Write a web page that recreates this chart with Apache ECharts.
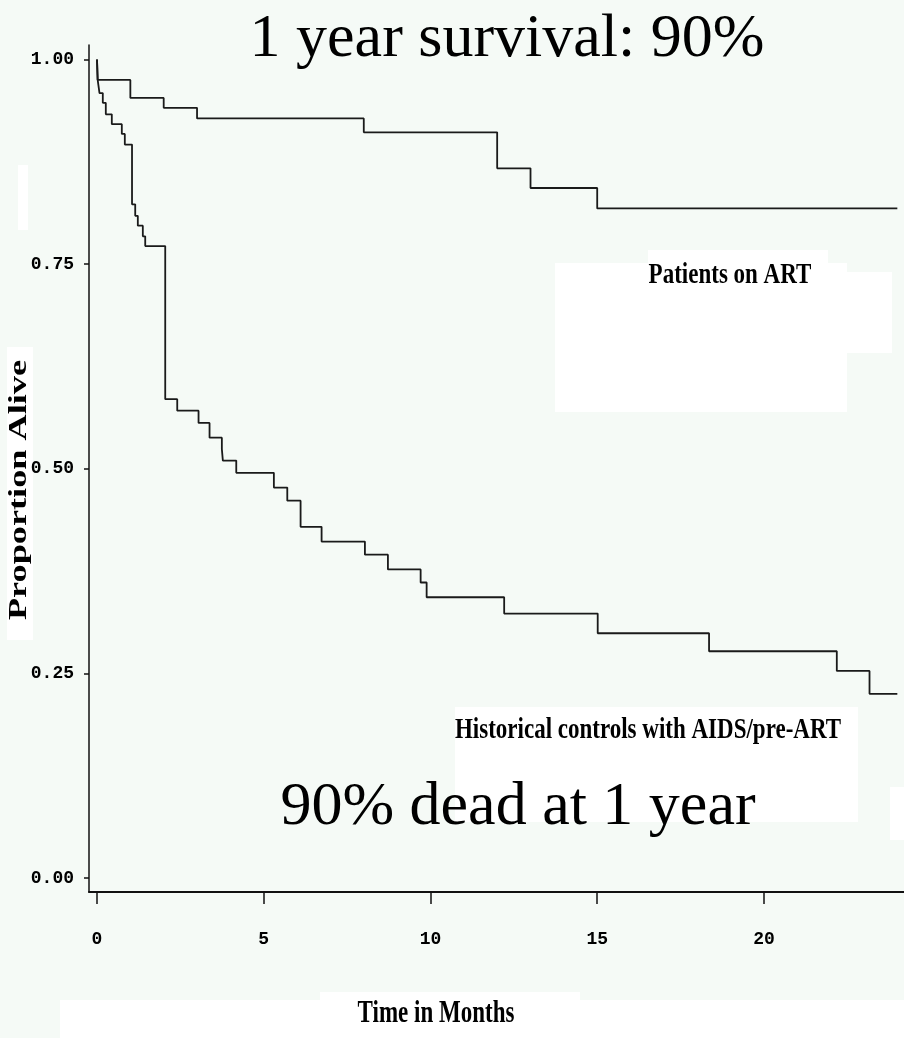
<!DOCTYPE html>
<html>
<head>
<meta charset="utf-8">
<script src="https://cdn.jsdelivr.net/npm/echarts@6/dist/echarts.min.js"></script>
<style>
  html, body { margin: 0; padding: 0; background: #f5faf6; }
  #chart { width: 904px; height: 1038px; }
</style>
</head>
<body>
<div id="chart"></div>
<script>
// Kaplan-Meier survival estimates (months, proportion alive)
const artMonths = [0, 0.02, 1.0, 2.0, 3.0, 8.0, 12.0, 13.0, 15.0, 24.0];
const artSurvival = [1, 0.975, 0.953, 0.941, 0.928, 0.911, 0.867, 0.843, 0.818, 0.818];

const ctrlMonths = [0, 0.02, 0.075, 0.174, 0.264, 0.444, 0.744, 0.834, 1.05, 1.146,
  1.224, 1.374, 1.446, 2.046, 2.406, 3.045, 3.375, 3.744, 3.774, 4.176,
  5.304, 5.706, 6.105, 6.735, 8.034, 8.724, 9.705, 9.885, 12.21, 15.015,
  18.354, 22.185, 23.166, 24.0];
const ctrlSurvival = [1, 0.975, 0.959, 0.947, 0.933, 0.921, 0.909, 0.896, 0.823, 0.809,
  0.797, 0.784, 0.772, 0.585, 0.571, 0.556, 0.538, 0.524, 0.510, 0.495,
  0.477, 0.461, 0.429, 0.411, 0.395, 0.377, 0.361, 0.343, 0.323, 0.299,
  0.277, 0.253, 0.225, 0.225];

const xTicks = [0, 5, 10, 15, 20];
const yTicks = [0, 0.25, 0.5, 0.75, 1];
const yTickLabels = ['0.00', '0.25', '0.50', '0.75', '1.00'];

const artLabel = 'Patients on ART';
const ctrlLabel = 'Historical controls with AIDS/pre-ART';
const headline = '1 year survival: 90%';
const footline = '90% dead at 1 year';
const xTitle = 'Time in Months';
const yTitle = 'Proportion Alive';

const pairs = (xs, ys) => xs.map((x, i) => [x, ys[i]]);

const chart = echarts.init(document.getElementById('chart'), null, { renderer: 'canvas' });

const tickFont = { fontFamily: 'Liberation Mono', fontWeight: 'bold', fontSize: 18, color: '#000' };
const boldSerif = 'bold 23px "Liberation Serif"';

chart.setOption({
  backgroundColor: '#f5faf6',
  animation: false,
  grid: { left: 89, right: 0, top: 45, bottom: 146, containLabel: false, outerBoundsMode: 'none' },
  xAxis: {
    type: 'value',
    min: -0.24,
    max: 24.2,
    splitLine: { show: false },
    axisLine: { show: true, onZero: false, lineStyle: { color: '#111', width: 2 } },
    axisTick: { show: true, customValues: xTicks, length: 12, lineStyle: { color: '#111', width: 1.5 } },
    axisLabel: Object.assign({ customValues: xTicks, margin: 38 }, tickFont)
  },
  yAxis: {
    type: 'value',
    min: -0.0171,
    max: 1.0177,
    splitLine: { show: false },
    axisLine: { show: true, onZero: false, lineStyle: { color: '#111', width: 1.5 } },
    axisTick: { show: true, customValues: yTicks, length: 5, lineStyle: { color: '#111', width: 1.5 } },
    axisLabel: Object.assign({
      customValues: yTicks,
      margin: 15,
      formatter: v => yTickLabels[yTicks.indexOf(Math.round(v * 100) / 100)] || ''
    }, tickFont)
  },
  graphic: [
    // white paper patches
    { type: 'rect', z: 0, silent: true, shape: { x: 555, y: 263, width: 292, height: 149 }, style: { fill: '#ffffff' } },
    { type: 'rect', z: 0, silent: true, shape: { x: 648, y: 250, width: 180, height: 14 }, style: { fill: '#ffffff' } },
    { type: 'rect', z: 0, silent: true, shape: { x: 846, y: 272, width: 46, height: 81 }, style: { fill: '#ffffff' } },
    { type: 'rect', z: 0, silent: true, shape: { x: 455, y: 707, width: 403, height: 115 }, style: { fill: '#ffffff' } },
    { type: 'rect', z: 0, silent: true, shape: { x: 890, y: 787, width: 14, height: 53 }, style: { fill: '#ffffff' } },
    { type: 'rect', z: 0, silent: true, shape: { x: 7, y: 347, width: 26, height: 293 }, style: { fill: '#ffffff' } },
    { type: 'rect', z: 0, silent: true, shape: { x: 18, y: 165, width: 10, height: 65 }, style: { fill: '#ffffff' } },
    { type: 'rect', z: 0, silent: true, shape: { x: 60, y: 1000, width: 844, height: 38 }, style: { fill: '#ffffff' } },
    { type: 'rect', z: 0, silent: true, shape: { x: 320, y: 992, width: 260, height: 10 }, style: { fill: '#ffffff' } },

    // headline and footline
    { type: 'text', z: 10, x: 507, y: 40,
      style: { text: headline, font: '62px "Liberation Serif"', fill: '#000', align: 'center', verticalAlign: 'middle', textAlign: 'center', textVerticalAlign: 'middle' } },
    { type: 'text', z: 10, x: 518, y: 808,
      style: { text: footline, font: '62px "Liberation Serif"', fill: '#000', align: 'center', verticalAlign: 'middle', textAlign: 'center', textVerticalAlign: 'middle' } },

    // curve labels
    { type: 'text', z: 10, x: 730, y: 276, scaleY: 1.25,
      style: { text: artLabel, font: boldSerif, fill: '#000', align: 'center', verticalAlign: 'middle', textAlign: 'center', textVerticalAlign: 'middle' } },
    { type: 'text', z: 10, x: 648, y: 731, scaleY: 1.25,
      style: { text: ctrlLabel, font: boldSerif, fill: '#000', align: 'center', verticalAlign: 'middle', textAlign: 'center', textVerticalAlign: 'middle' } },

    // axis titles
    { type: 'text', z: 10, x: 436, y: 1014, scaleY: 1.35,
      style: { text: xTitle, font: boldSerif, fill: '#000', align: 'center', verticalAlign: 'middle', textAlign: 'center', textVerticalAlign: 'middle' } },
    { type: 'text', z: 10, x: 20, y: 490, rotation: Math.PI / 2, scaleX: 1.45,
      style: { text: yTitle, font: 'bold 25px "Liberation Serif"', fill: '#000', align: 'center', verticalAlign: 'middle', textAlign: 'center', textVerticalAlign: 'middle' } }
  ],
  series: [
    {
      name: artLabel,
      type: 'line',
      step: 'end',
      z: 5,
      showSymbol: false,
      data: pairs(artMonths, artSurvival),
      lineStyle: { color: '#1a1a1a', width: 1.8 }
    },
    {
      name: ctrlLabel,
      type: 'line',
      step: 'end',
      z: 5,
      showSymbol: false,
      data: pairs(ctrlMonths, ctrlSurvival),
      lineStyle: { color: '#1a1a1a', width: 1.8 }
    }
  ]
});
</script>
</body>
</html>
